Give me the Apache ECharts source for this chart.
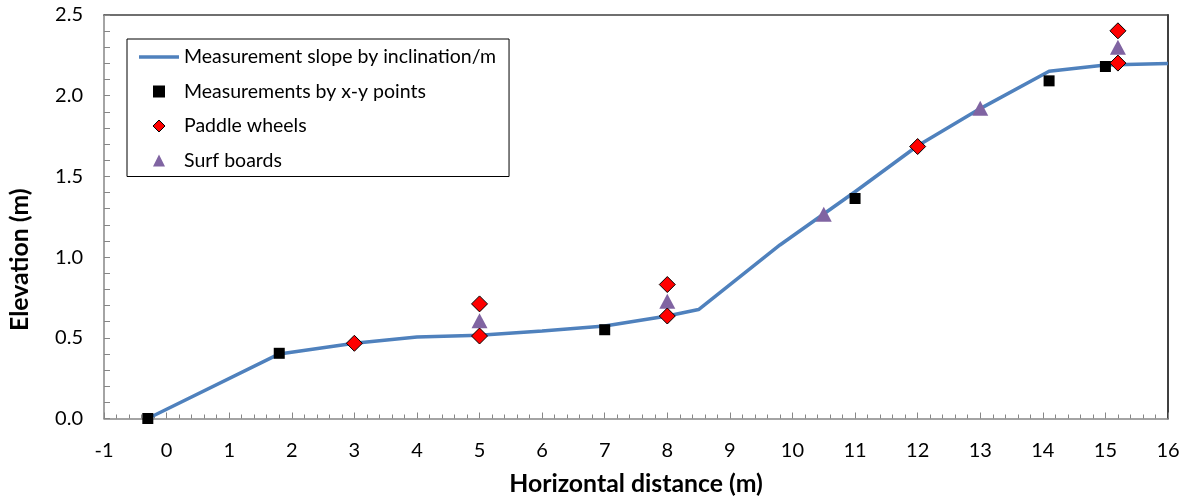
<!DOCTYPE html>
<html>
<head>
<meta charset="utf-8">
<script src="https://cdn.jsdelivr.net/npm/echarts@6/dist/echarts.min.js"></script>
<style>
  html, body { margin: 0; padding: 0; background: #ffffff; }
  #chart { width: 1192px; height: 504px; }
</style>
</head>
<body>
<div id="chart"></div>
<script>
// Beach profile: slope from inclination readings plus surveyed marks
const slopeX = [-0.3, 1.8, 3, 4, 5, 6, 7, 8, 8.5, 9.8, 11, 12, 13, 14.1, 15, 16];
const slopeY = [0, 0.40, 0.466, 0.505, 0.516, 0.542, 0.573, 0.635, 0.675, 1.075, 1.405, 1.69, 1.92, 2.152, 2.19, 2.2];

const xyPointsX = [-0.3, 1.8, 7, 11, 14.1, 15];
const xyPointsY = [0, 0.404, 0.55, 1.363, 2.092, 2.181];

const paddleX = [3, 5, 5, 8, 8, 12, 15.2, 15.2];
const paddleY = [0.466, 0.511, 0.71, 0.635, 0.83, 1.685, 2.402, 2.202];

const surfX = [5, 8, 10.5, 13, 15.2];
const surfY = [0.606, 0.727, 1.266, 1.923, 2.30];

const seriesNames = [
  'Measurement slope by inclination/m',
  'Measurements by x-y points',
  'Paddle wheels',
  'Surf boards'
];
const xTicks = { min: -1, max: 16, step: 1 };
const yTicks = { min: 0, max: 2.5, step: 0.5 };

const pairs = (xs, ys) => xs.map((x, i) => [x, ys[i]]);

const FONT = 'Lato';
const axisGrey = '#868686';
const frameDark = '#404040';

// legend glyphs as paths so they keep their own proportions
const ICON_LINE = 'path://M0,0L40,0L40,3.5L0,3.5Z';
const ICON_SQUARE = 'path://M0,0L10,0L10,10L0,10Z';
const ICON_DIAMOND = 'path://M5,0L10,5L5,10L0,5Z';
const ICON_TRIANGLE = 'path://M5,0L10,10L0,10Z';

const chart = echarts.init(document.getElementById('chart'), null, { renderer: 'canvas' });

chart.setOption({
  backgroundColor: '#ffffff',
  animation: false,
  textStyle: { fontFamily: FONT },
  grid: { left: 103, right: 24, top: 15, bottom: 85.5, containLabel: false },
  legend: {
    orient: 'vertical',
    left: 127,
    top: 39,
    padding: [8, 13, 6, 12],
    itemWidth: 40,
    itemHeight: 12,
    itemGap: 14.5,
    itemTextGap: 4,
    symbolKeepAspect: true,
    borderColor: '#000000',
    borderWidth: 1,
    backgroundColor: '#ffffff',
    textStyle: { fontFamily: FONT, fontSize: 19.5, color: '#000000' },
    data: [
      { name: seriesNames[0], icon: ICON_LINE, itemStyle: { color: '#4F81BD' } },
      { name: seriesNames[1], icon: ICON_SQUARE },
      { name: seriesNames[2], icon: ICON_DIAMOND, itemStyle: { color: '#FF0000', borderColor: '#000000', borderWidth: 1 } },
      { name: seriesNames[3], icon: ICON_TRIANGLE }
    ]
  },
  xAxis: [{
    type: 'value',
    min: xTicks.min,
    max: xTicks.max,
    interval: xTicks.step,
    name: 'Horizontal distance (m)',
    nameLocation: 'middle',
    nameGap: 53,
    nameTextStyle: { fontFamily: FONT, fontSize: 24.8, fontWeight: 'bold', color: '#000000' },
    axisLine: { show: true, onZero: false, lineStyle: { color: axisGrey, width: 1.5 } },
    axisTick: { show: true, inside: true, length: 6, lineStyle: { color: axisGrey } },
    minorTick: { show: true, splitNumber: 5, length: 4, lineStyle: { color: axisGrey } },
    axisLabel: { fontFamily: FONT, fontSize: 20, color: '#000000', margin: 22 },
    splitLine: { show: false }
  }, {
    type: 'value',
    position: 'top',
    min: xTicks.min,
    max: xTicks.max,
    axisLine: { show: true, onZero: false, lineStyle: { color: frameDark, width: 1.5 } },
    axisTick: { show: false },
    axisLabel: { show: false },
    splitLine: { show: false }
  }],
  yAxis: [{
    type: 'value',
    min: yTicks.min,
    max: yTicks.max,
    interval: yTicks.step,
    name: 'Elevation (m)',
    nameLocation: 'middle',
    nameRotate: 90,
    nameGap: 71,
    nameTextStyle: { fontFamily: FONT, fontSize: 24.8, fontWeight: 'bold', color: '#000000', padding: [0, 86, 0, 0] },
    axisLine: { show: true, onZero: false, lineStyle: { color: axisGrey, width: 1.5 } },
    axisTick: { show: true, inside: true, length: 6, lineStyle: { color: axisGrey } },
    minorTick: { show: true, splitNumber: 5, length: 6, lineStyle: { color: axisGrey } },
    axisLabel: {
      fontFamily: FONT, fontSize: 20, color: '#000000', margin: 21,
      formatter: v => v.toFixed(1)
    },
    splitLine: { show: false }
  }, {
    type: 'value',
    position: 'right',
    min: yTicks.min,
    max: yTicks.max,
    axisLine: { show: true, onZero: false, lineStyle: { color: frameDark, width: 2 } },
    axisTick: { show: false },
    axisLabel: { show: false },
    splitLine: { show: false }
  }],
  series: [
    {
      name: seriesNames[0],
      type: 'line',
      data: pairs(slopeX, slopeY),
      symbol: 'none',
      lineStyle: { color: '#4F81BD', width: 3.5 },
      itemStyle: { color: '#4F81BD' },
      z: 2
    },
    {
      name: seriesNames[1],
      type: 'scatter',
      data: pairs(xyPointsX, xyPointsY),
      symbol: 'rect',
      symbolSize: 11,
      itemStyle: { color: '#000000', opacity: 1 },
      z: 3
    },
    {
      name: seriesNames[3],
      type: 'scatter',
      data: pairs(surfX, surfY),
      symbol: 'triangle',
      symbolSize: [16, 15],
      itemStyle: { color: '#8064A2', opacity: 1 },
      z: 4
    },
    {
      name: seriesNames[2],
      type: 'scatter',
      data: pairs(paddleX, paddleY),
      symbol: 'diamond',
      symbolSize: 16,
      itemStyle: { color: '#FF0000', borderColor: '#000000', borderWidth: 1, opacity: 1 },
      z: 5
    }
  ]
});
</script>
</body>
</html>
